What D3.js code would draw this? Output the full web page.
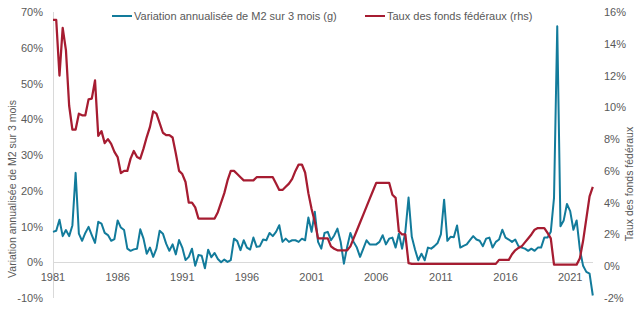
<!DOCTYPE html>
<html>
<head>
<meta charset="utf-8">
<script src="https://cdn.jsdelivr.net/npm/d3@7"></script>
<style>
  body { margin: 0; background: #fff; }
  svg text { font-family: "Liberation Sans", Arial, sans-serif; fill: #595959; }
</style>
</head>
<body>
<div id="chart"></div>
<script>
// quarterly points, 1981 Q1 onward
var m2Growth = [
  8.5, 8.8, 11.9, 7.3, 9.0, 7.3, 10.3, 25.0, 8.0, 6.0, 8.2, 9.9, 7.6, 5.4, 11.3, 10.8,
  8.2, 7.6, 6.0, 6.5, 11.7, 9.7, 9.0, 3.8, 3.2, 3.6, 3.8, 9.2, 6.6, 2.4, 4.1, 1.5,
  3.8, 8.8, 8.0, 5.2, 3.2, 5.0, 2.2, 6.2, 4.1, 0.6, 1.5, 3.8, -1.0, 2.0, 1.8, -1.7,
  3.5, 1.4, 2.6, 0.9, 0.0, 0.75, 0.1, 0.6, 6.6, 5.9, 3.4, 6.15, 4.1, 3.55, 6.9, 4.3,
  4.5, 6.35, 6.15, 8.2, 7.3, 8.5, 10.35, 5.7, 6.6, 5.7, 6.15, 6.15, 5.7, 6.6, 6.15, 12.5,
  8.5, 14.1, 5.7, 3.8, 8.2, 8.5, 6.15, 7.5, 9.4, 5.7, -0.4, 4.3, 8.2, 5.7, 4.1, 1.5,
  3.8, 6.15, 5.0, 5.0, 5.0, 5.7, 7.55, 5.0, 6.6, 6.9, 4.1, 8.0, 3.8, 8.5, 18.1, 7.1,
  3.55, 0.55, 2.4, 0.55, 4.1, 3.8, 4.5, 5.4, 7.8, 17.5, 6.0, 7.1, 7.0, 10.3, 4.1, 4.6,
  5.0, 6.2, 7.3, 6.35, 6.0, 4.5, 6.6, 6.9, 4.1, 5.7, 6.35, 9.1, 6.9, 6.35, 5.7, 6.35,
  4.5, 4.1, 3.8, 3.2, 3.8, 3.2, 4.1, 4.1, 6.9, 6.9, 8.5, 18.0, 66.0, 10.1, 11.7, 16.3,
  14.3, 9.1, 11.7, 3.6, -1.0, -2.7, -3.2, -9.3
];
var fedFunds = [
  15.5, 15.5, 12.0, 15.0, 13.6, 10.1, 8.6, 8.6, 9.6, 9.5, 9.5, 10.5, 10.55, 11.7, 8.2, 8.5,
  7.75, 8.0, 7.7, 7.2, 6.87, 5.86, 6.0, 6.0, 6.77, 7.25, 6.87, 6.77, 7.4, 8.13, 8.77, 9.75,
  9.6, 9.0, 8.4, 8.25, 8.25, 8.1, 7.1, 6.0, 5.8, 5.3, 4.0, 4.0, 3.7, 3.0, 3.0, 3.0,
  3.0, 3.0, 3.0, 3.4, 4.0, 4.6, 5.4, 6.0, 6.0, 5.8, 5.6, 5.4, 5.4, 5.4, 5.4, 5.6,
  5.6, 5.6, 5.6, 5.6, 5.6, 5.2, 4.8, 4.8, 5.0, 5.2, 5.5, 6.0, 6.4, 6.4, 5.9, 4.6,
  3.6, 2.8, 1.75, 1.75, 1.75, 1.75, 1.25, 1.1, 1.0, 1.0, 1.0, 1.0, 1.25, 1.75, 2.25, 2.75,
  3.25, 3.75, 4.25, 4.75, 5.25, 5.25, 5.25, 5.25, 5.25, 4.5, 4.3, 2.2, 2.0, 2.0, 0.2, 0.15,
  0.15, 0.15, 0.15, 0.15, 0.15, 0.15, 0.15, 0.15, 0.15, 0.15, 0.15, 0.15, 0.15, 0.15, 0.15, 0.15,
  0.15, 0.15, 0.15, 0.15, 0.15, 0.15, 0.15, 0.15, 0.15, 0.15, 0.4, 0.4, 0.4, 0.4, 0.75, 1.0,
  1.15, 1.25, 1.5, 1.75, 2.0, 2.3, 2.4, 2.4, 2.4, 2.1, 1.75, 0.1, 0.1, 0.1, 0.1, 0.1,
  0.1, 0.1, 0.1, 0.5, 1.6, 3.0, 4.4, 5.0
];
var yearLabels = ["1981", "1986", "1991", "1996", "2001", "2006", "2011", "2016", "2021"];
var leftTicks = [-10, 0, 10, 20, 30, 40, 50, 60, 70];
var rightTicks = [-2, 0, 2, 4, 6, 8, 10, 12, 14, 16];
var seriesNames = ["Variation annualisée de M2 sur 3 mois (g)", "Taux des fonds fédéraux (rhs)"];

var width = 640, height = 330;
var blue = "#127b9b", red = "#a61c31";

var svg = d3.select("#chart").append("svg")
  .attr("width", width)
  .attr("height", height);

var x = d3.scaleLinear().domain([0, m2Growth.length - 1]).range([53, 592.8]);
var yLeft = d3.scaleLinear().domain([-10, 70]).range([298, 12]);
var yRight = d3.scaleLinear().domain([-2, 16]).range([298, 12]);

// axis lines
svg.append("line")
  .attr("x1", 53.5).attr("x2", 53.5)
  .attr("y1", yLeft(70)).attr("y2", yLeft(-10))
  .style("stroke", "#d9d9d9");
svg.append("line")
  .attr("x1", 53).attr("x2", 593)
  .attr("y1", Math.round(yLeft(0)) + 0.5).attr("y2", Math.round(yLeft(0)) + 0.5)
  .style("stroke", "#d9d9d9");

// left ticks
var gl = svg.append("g")
  .attr("transform", "translate(43,0)")
  .call(d3.axisLeft(yLeft).tickValues(leftTicks).tickSize(0).tickPadding(0)
    .tickFormat(function(d) { return d + "%"; }));
gl.select(".domain").remove();

// right ticks
var gr = svg.append("g")
  .attr("transform", "translate(604,0)")
  .call(d3.axisRight(yRight).tickValues(rightTicks).tickSize(0).tickPadding(0)
    .tickFormat(function(d) { return d + "%"; }));
gr.select(".domain").remove();

svg.selectAll(".tick text")
  .style("font-size", "11px")
  .style("fill", "#595959")
  .style("font-family", "Liberation Sans, Arial, sans-serif");

// year labels
svg.selectAll("text.year")
  .data(yearLabels)
  .enter()
  .append("text")
    .attr("class", "year")
    .attr("x", function(d, i) { return x(i * 20); })
    .attr("y", 281)
    .attr("text-anchor", "middle")
    .style("font-size", "11px")
    .text(function(d) { return d; });

// axis titles
svg.append("text")
  .attr("transform", "translate(16,189) rotate(-90)")
  .attr("text-anchor", "middle")
  .style("font-size", "10.5px")
  .text("Variation annualisée de M2 sur 3 mois");
svg.append("text")
  .attr("transform", "translate(633,184) rotate(-90)")
  .attr("text-anchor", "middle")
  .style("font-size", "10.5px")
  .text("Taux des fonds fédéraux");

// lines
var lineLeft = d3.line()
  .x(function(d, i) { return x(i); })
  .y(function(d) { return yLeft(d); });
var lineRight = d3.line()
  .x(function(d, i) { return x(i); })
  .y(function(d) { return yRight(d); });

svg.append("path")
  .datum(m2Growth)
  .attr("d", lineLeft)
  .style("fill", "none")
  .style("stroke", blue)
  .style("stroke-width", 2)
  .style("stroke-linejoin", "round");
svg.append("path")
  .datum(fedFunds)
  .attr("d", lineRight)
  .style("fill", "none")
  .style("stroke", red)
  .style("stroke-width", 2.25)
  .style("stroke-linejoin", "round");

// legend
var legendX = [112, 365];
var legend = svg.selectAll("g.legend")
  .data(seriesNames)
  .enter()
  .append("g")
    .attr("class", "legend")
    .attr("transform", function(d, i) { return "translate(" + legendX[i] + ",16)"; });
legend.append("line")
  .attr("x1", 0).attr("x2", 20)
  .style("stroke", function(d, i) { return i === 0 ? blue : red; })
  .style("stroke-width", 2);
legend.append("text")
  .attr("x", 22)
  .attr("dy", "0.35em")
  .style("font-size", "11px")
  .text(function(d) { return d; });
</script>
</body>
</html>
